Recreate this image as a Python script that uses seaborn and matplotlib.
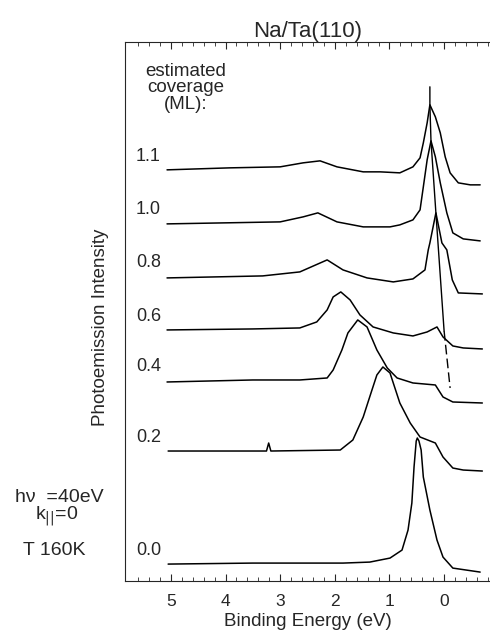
import pandas as pd
import matplotlib
matplotlib.use("Agg")
import matplotlib.pyplot as plt
import seaborn as sns

# binding energies (eV) and intensities (arb. units, stacked)
e_00 = [5.05, 3.5, 1.85, 1.36, 0.99, 0.77, 0.66, 0.59, 0.55, 0.51, 0.49, 0.46, 0.42, 0.38, 0.26, 0.13, 0.02, -0.16, -0.66]
i_00 = [17, 18, 18, 19, 23, 31, 51, 78, 114, 140, 143, 140, 131, 104, 71, 41, 24, 13, 9]

e_02 = [5.05, 3.25, 3.21, 3.17, 1.90, 1.67, 1.48, 1.32, 1.23, 1.12, 0.99, 0.81, 0.62, 0.44, 0.16, 0.02, -0.16, -0.35, -0.70]
i_02 = [130, 130, 138, 130, 131, 141, 164, 191, 206, 214, 208, 178, 158, 144, 138, 124, 113, 111, 110]

e_04 = [5.07, 3.5, 2.64, 2.14, 2.03, 1.87, 1.76, 1.58, 1.41, 1.23, 1.04, 0.86, 0.57, 0.16, 0.02, -0.16, -0.70]
i_04 = [199, 201, 201, 203, 211, 231, 248, 261, 254, 231, 213, 203, 198, 196, 184, 179, 178]

e_06 = [5.07, 3.5, 2.64, 2.33, 2.14, 2.03, 1.89, 1.72, 1.54, 1.30, 0.93, 0.57, 0.31, 0.13, 0.02, -0.16, -0.35, -0.70]
i_06 = [251, 252, 253, 259, 271, 284, 289, 281, 266, 254, 248, 245, 249, 254, 244, 235, 233, 232]

e_08 = [5.07, 3.32, 2.64, 2.14, 1.85, 1.41, 0.93, 0.57, 0.35, 0.29, 0.26, 0.15, 0.04, -0.05, -0.15, -0.26, -0.70]
i_08 = [303, 305, 309, 321, 311, 303, 299, 302, 311, 331, 338, 368, 338, 331, 301, 288, 287]

e_10 = [5.07, 3.00, 2.58, 2.31, 1.96, 1.48, 0.99, 0.81, 0.57, 0.44, 0.38, 0.31, 0.24, 0.16, 0.07, -0.05, -0.16, -0.35, -0.66]
i_10 = [357, 359, 364, 368, 359, 354, 354, 356, 361, 371, 394, 421, 440, 424, 398, 368, 348, 342, 340]

e_11 = [5.07, 3.92, 3.00, 2.58, 2.27, 1.96, 1.48, 1.17, 0.81, 0.57, 0.44, 0.38, 0.31, 0.26, 0.16, 0.07, -0.02, -0.11, -0.26, -0.48, -0.66]
i_11 = [411, 413, 414, 418, 420, 414, 409, 409, 408, 414, 423, 438, 458, 476, 464, 448, 424, 408, 398, 396, 396]

coverages = ["0.0", "0.2", "0.4", "0.6", "0.8", "1.0", "1.1"]
energies = [e_00, e_02, e_04, e_06, e_08, e_10, e_11]
intens = [i_00, i_02, i_04, i_06, i_08, i_10, i_11]
label_y = [31, 144, 214, 264, 318, 371, 424]

# guide line through the Na-induced peak
guide_e = [0.26, 0.26, 0.24, 0.15, 0.0]
guide_i = [494, 476, 440, 368, 250]
guide_dash_e = [0.0, -0.11]
guide_dash_i = [250, 193]

sns.set_style("ticks")
plt.rcParams['font.family'] = ['Liberation Sans', 'DejaVu Sans']

fig = plt.figure(figsize=(4.9, 6.33), dpi=100)
ax = fig.add_axes([0.255, 0.082, 0.745, 0.852])

for cov, e, i in zip(coverages, energies, intens):
    df = pd.DataFrame({"E": e, "I": i})
    sns.lineplot(data=df, x="E", y="I", ax=ax, color="black", lw=1.1,
                 estimator=None, sort=False)

sns.lineplot(x=guide_e, y=guide_i, ax=ax, color="black", lw=1.0, estimator=None, sort=False)
sns.lineplot(x=guide_dash_e, y=guide_dash_i, ax=ax, color="black", lw=1.0,
             estimator=None, sort=False, dashes=False, linestyle=(0, (7, 3)))

for cov, y in zip(coverages, label_y):
    ax.text(5.64, y, cov, fontsize=13, ha="left", va="center")

ax.text(4.72, 493, "estimated\ncoverage\n(ML):", fontsize=13.5, ha="center", va="center",
        linespacing=0.95)

ax.set_xlim(5.84, -0.84)
ax.set_ylim(0, 539)
ax.set_xticks([5, 4, 3, 2, 1, 0])
ax.set_xticks([x / 5 for x in range(-4, 29)], minor=True)
ax.set_yticks([])
ax.tick_params(axis="x", which="major", direction="in", length=5, width=0.8,
               top=True, labelsize=12.5, pad=9)
ax.tick_params(axis="x", which="minor", direction="in", length=3, width=0.6, top=True)
for side in ["left", "bottom", "top"]:
    ax.spines[side].set_linewidth(0.8)
ax.spines["right"].set_visible(False)

ax.set_xlabel("Binding Energy (eV)", fontsize=13.5, labelpad=3)
ax.set_ylabel("Photoemission Intensity", fontsize=13.5)
ax.yaxis.set_label_coords(-0.045, 0.47)
ax.set_title("Na/Ta(110)", fontsize=16, pad=3)

fig.text(0.03, 0.214, "h\u03bd  =40eV", fontsize=14, ha="left", va="center")
fig.text(0.072, 0.184, r"k$_{||}$=0", fontsize=14, ha="left", va="center")
fig.text(0.047, 0.13, "T 160K", fontsize=14, ha="left", va="center")

plt.savefig("out.png", dpi=100)
